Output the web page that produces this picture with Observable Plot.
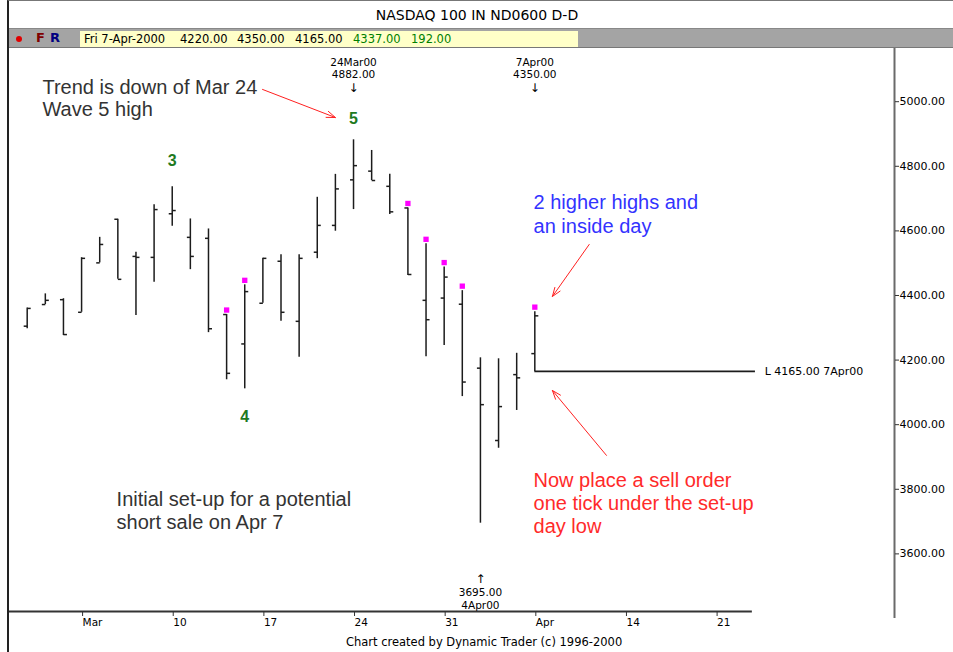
<!DOCTYPE html>
<html><head><meta charset="utf-8">
<script src="https://cdn.jsdelivr.net/npm/d3@7"></script>
<script src="https://cdn.jsdelivr.net/npm/@observablehq/plot@0.6"></script>
<style>
html,body{margin:0;padding:0;background:#fff;}
#page{position:relative;width:953px;height:652px;overflow:hidden;font-family:"DejaVu Sans",sans-serif;}
#frame{position:absolute;left:7px;top:0;width:946px;height:651px;border-left:2px solid #222;border-top:1px solid #777;border-bottom:1px solid #999;}
#title{position:absolute;left:9px;top:1px;width:936px;height:27px;line-height:28px;text-align:center;font-size:14px;color:#000;}
#bar{position:absolute;left:9px;top:28px;width:944px;height:18px;background:#a4a4a4;border-top:1px solid #888;border-bottom:1px solid #777;}
#bar span{position:absolute;top:0;line-height:18px;white-space:nowrap;}
#dot{position:absolute;left:7px;top:7px;width:6px;height:6px;border-radius:50%;background:#e00000;}
#info{position:absolute;left:71px;top:2px;width:498px;height:16px;background:#ffffc8;}
#info span{line-height:16px;font-size:11.5px;top:0;}
#chart{position:absolute;left:0;top:48px;}
</style></head>
<body><div id="page">
<div id="frame"></div>
<div id="title">NASDAQ 100 IN ND0600 D-D</div>
<div id="bar">
  <div id="dot"></div>
  <span style="left:27px;color:#800000;font-weight:bold;font-size:13px">F</span>
  <span style="left:41px;color:#000080;font-weight:bold;font-size:13px">R</span>
  <div id="info"></div>
</div>
<div id="chart"></div>
</div>
<script>
// ---- data ----
const dates = ["29-Feb","1-Mar","2-Mar","3-Mar","6-Mar","7-Mar","8-Mar","9-Mar","10-Mar","13-Mar","14-Mar","15-Mar","16-Mar","17-Mar","20-Mar","21-Mar","22-Mar","23-Mar","24-Mar","27-Mar","28-Mar","29-Mar","30-Mar","31-Mar","3-Apr","4-Apr","5-Apr","6-Apr","7-Apr"];
const opens  = [4305,4372,4387,4348,4501,4636,4521,4518,4653,4580,4577,4341,4250,4376,4506,4320,4534,4617,4758,4785,4738,4671,4385,4392,4373,4175,3951,4155,4220];
const highs  = [4361,4405,4390,4517,4580,4636,4534,4681,4737,4637,4606,4341,4433,4515,4526,4526,4704,4775,4882,4849,4775,4671,4560,4488,4415,4207,4204,4221,4350];
const lows   = [4297,4372,4276,4348,4501,4450,4338,4441,4614,4480,4285,4139,4111,4376,4320,4209,4514,4599,4666,4756,4651,4462,4210,4245,4087,3695,3927,4044,4165];
const closes = [4360,4385,4279,4515,4558,4450,4518,4666,4663,4521,4297,4159,4412,4515,4348,4515,4617,4730,4802,4756,4659,4465,4325,4457,4132,4062,4056,4145,4337];
const flagged = ["15-Mar","16-Mar","29-Mar","30-Mar","31-Mar","3-Apr","7-Apr"];
const xTickIndex = [3,8,13,18,23,28,33,38];
const xTickLabels = ["Mar","10","17","24","31","Apr","14","21"];
const yTicks = [3600,3800,4000,4200,4400,4600,4800,5000];
const xDomain = [-0.976, 47.84];
const yDomain = [3421.6, 5164.7];
const xAxisEnd = 40.0;
const lowLineEnd = 40.17;
const lowLabelX = 40.68;
const footerX = 25.2;

const waveLabels = [{x:8,y:4818,t:"3"},{x:12,y:4025,t:"4"},{x:18,y:4948,t:"5"}];
const grayNotes = [
  {x:0.84,y:5044,t:"Trend is down of Mar 24"},
  {x:0.84,y:4976,t:"Wave 5 high"},
  {x:4.93,y:3768,t:"Initial set-up for a potential"},
  {x:4.93,y:3697,t:"short sale on Apr 7"}];
const blueNotes = [
  {x:27.93,y:4688,t:"2 higher highs and"},
  {x:27.93,y:4614,t:"an inside day"}];
const redNotes = [
  {x:27.93,y:3827,t:"Now place a sell order"},
  {x:27.93,y:3756,t:"one tick under the set-up"},
  {x:27.93,y:3685,t:"day low"}];
const smallLabels = [
  {x:18,y:5121,t:"24Mar00"},{x:18,y:5084,t:"4882.00"},
  {x:28,y:5121,t:"7Apr00"},{x:28,y:5084,t:"4350.00"},
  {x:25,y:3480,t:"3695.00"},{x:25,y:3440,t:"4Apr00"}];
const arrowGlyphs = [
  {x:18,y:5042,t:"↓"},{x:28,y:5042,t:"↓"},{x:25,y:3522,t:"↑"}];
const redArrows = [
  {x1:12.98,y1:5038,x2:17.0,y2:4951},
  {x1:31.0,y1:4558,x2:28.97,y2:4397},
  {x1:31.95,y1:3905,x2:28.97,y2:4106}];
const infoFields = [
  {left:4,t:"Fri 7-Apr-2000",c:"#000"},
  {left:100,t:"4220.00",c:"#000"},
  {left:157,t:"4350.00",c:"#000"},
  {left:215,t:"4165.00",c:"#000"},
  {left:273,t:"4337.00",c:"#008000"},
  {left:331,t:"192.00",c:"#008000"}];

// header info fields
const info = document.getElementById("info");
for (const f of infoFields) {
  const s = document.createElement("span");
  s.textContent = f.t; s.style.left = f.left + "px"; s.style.color = f.c;
  info.appendChild(s);
}

const bars = dates.map((d,i)=>({i, date:d, open:opens[i], high:highs[i], low:lows[i], close:closes[i], flag:flagged.includes(d)}));
const last = bars[bars.length-1];

const leftTick = {draw(ctx){ctx.moveTo(-3.5,0);ctx.lineTo(0,0);}};
const rightTick = {draw(ctx){ctx.moveTo(0,0);ctx.lineTo(3.5,0);}};
const tickMap = new Map(xTickIndex.map((d,k)=>[d,xTickLabels[k]]));
const ink = "#1c1c1c";

const chart = Plot.plot({
  width: 953, height: 604,
  marginLeft: 9, marginRight: 59, marginTop: 0, marginBottom: 41,
  style: {background:"transparent", overflow:"visible", fontFamily:"DejaVu Sans", fontSize:"11px", color:"#000"},
  x: {type:"linear", domain: xDomain},
  y: {type:"linear", domain: yDomain},
  marks: [
    Plot.ruleX([xDomain[1]], {y1: 3400, y2: yDomain[1], stroke:"#6a6a6a", strokeWidth:2}),
    Plot.ruleY([yDomain[0]], {x1: xDomain[0], x2: xAxisEnd, stroke:"#333", strokeWidth:1.8}),
    Plot.axisX(xTickIndex, {anchor:"bottom", tickSize:5, tickPadding:2, textAnchor:"start", dx:1, tickFormat: d=>tickMap.get(d), fontSize:10.5, stroke:"#333"}),
    Plot.axisY(yTicks, {anchor:"right", tickSize:4, tickPadding:1, tickFormat: d=>d.toFixed(2), fontSize:11, stroke:"#333"}),
    Plot.ruleX(bars, {x:"i", y1:"low", y2:"high", stroke:ink, strokeWidth:1.5}),
    Plot.dot(bars, {x:"i", y:"open", symbol:leftTick, r:3, fill:"none", stroke:ink, strokeWidth:1.5}),
    Plot.dot(bars, {x:"i", y:"close", symbol:rightTick, r:3, fill:"none", stroke:ink, strokeWidth:1.5}),
    Plot.dot(bars.filter(d=>d.flag), {x:"i", y:"high", symbol:"square", r:3, fill:"#ff00ff", dy:-4.5}),
    Plot.ruleY([last], {y:"low", x1:"i", x2: ()=>lowLineEnd, stroke:ink, strokeWidth:1.6}),
    Plot.text([last], {x: ()=>lowLabelX, y:"low", text: d=>`L ${d.low.toFixed(2)} 7Apr00`, textAnchor:"start", fontSize:11, fill:"#000"}),
    Plot.text(smallLabels, {x:"x", y:"y", text:"t", fontSize:10.5, fill:"#000"}),
    Plot.text(arrowGlyphs, {x:"x", y:"y", text:"t", fontSize:12, fill:"#000"}),
    Plot.text(waveLabels, {x:"x", y:"y", text:"t", fontSize:16, fontWeight:"bold", fill:"#1f7a1f", fontFamily:"Liberation Sans"}),
    Plot.text(grayNotes, {x:"x", y:"y", text:"t", textAnchor:"start", fontSize:20, fill:"#333", fontFamily:"Liberation Sans"}),
    Plot.text(blueNotes, {x:"x", y:"y", text:"t", textAnchor:"start", fontSize:20, fill:"#3333ff", fontFamily:"Liberation Sans"}),
    Plot.text(redNotes, {x:"x", y:"y", text:"t", textAnchor:"start", fontSize:20, fill:"#ff2a2a", fontFamily:"Liberation Sans"}),
    Plot.arrow(redArrows, {x1:"x1", y1:"y1", x2:"x2", y2:"y2", stroke:"#ff2020", strokeWidth:1, headLength:14, headAngle:40}),
    Plot.text(["Chart created by Dynamic Trader (c) 1996-2000"], {frameAnchor:"bottom", x: ()=>footerX, dy:34, text: d=>d, fontSize:11.5, fill:"#000"})
  ]
});
document.getElementById("chart").appendChild(chart);
</script>
</body></html>
